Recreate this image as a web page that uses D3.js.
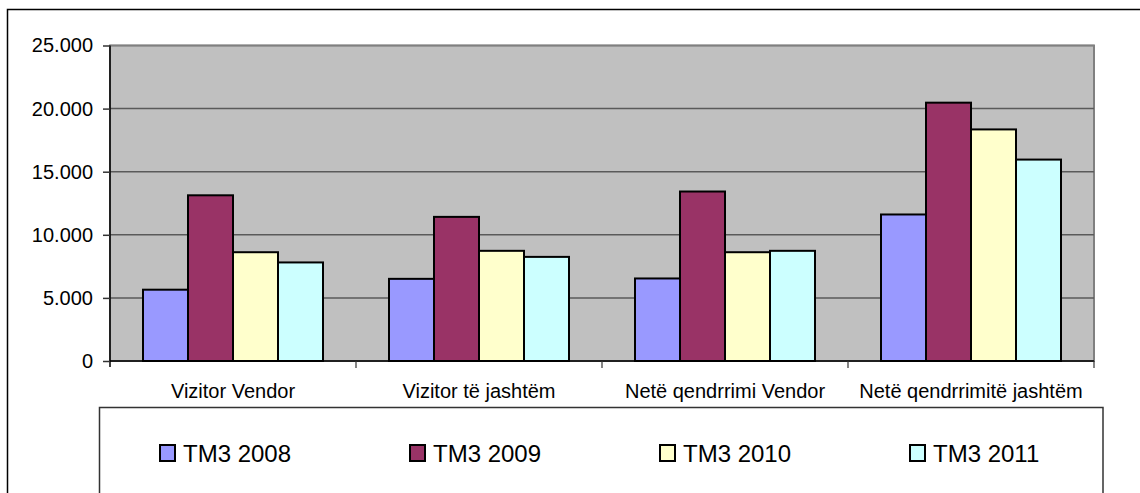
<!DOCTYPE html>
<html>
<head>
<meta charset="utf-8">
<script src="https://cdn.jsdelivr.net/npm/d3@7"></script>
<style>
  body { margin: 0; background: #fff; }
  svg { display: block; font-family: "Liberation Sans", Arial, sans-serif; }
</style>
</head>
<body>
<svg id="chart" width="1140" height="493"></svg>
<script>
// Categories and series.
const categories = ['Vizitor Vendor', 'Vizitor të jashtëm', 'Netë qendrrimi Vendor', 'Netë qendrrimitë jashtëm'];
const seriesNames = ['TM3 2008', 'TM3 2009', 'TM3 2010', 'TM3 2011'];
const tm3_2008 = [5650, 6510, 6540, 11610];
const tm3_2009 = [13130, 11420, 13430, 20470];
const tm3_2010 = [8620, 8730, 8620, 18350];
const tm3_2011 = [7810, 8250, 8730, 15960];
const yTicks = [0, 5000, 10000, 15000, 20000, 25000];
const colors = ['#9999ff', '#993366', '#ffffcc', '#ccffff'];

const seriesValues = [tm3_2008, tm3_2009, tm3_2010, tm3_2011];

const svg = d3.select('#chart');

// Plot area.
const plot = { left: 110, right: 1094, top: 45.5, bottom: 361 };

// Number format with dot as thousands separator.
const fmt = d3.formatLocale({ decimal: ',', thousands: '.', grouping: [3], currency: ['', ''] }).format(',d');

// Scales.
const x0 = d3.scaleBand()
  .domain(categories)
  .range([plot.left, plot.right]);

const x1 = d3.scaleBand()
  .domain(seriesNames)
  .range([33, x0.bandwidth() - 33]);

const y = d3.scaleLinear()
  .domain([0, 25000])
  .range([plot.bottom, plot.top]);

// Outer frame.
svg.append('path')
  .attr('d', `M7.5,493 V9.5 H1140`)
  .attr('fill', 'none')
  .attr('stroke', '#000')
  .attr('stroke-width', 1.5);

// Plot background.
svg.append('rect')
  .attr('x', plot.left)
  .attr('y', plot.top)
  .attr('width', plot.right - plot.left)
  .attr('height', plot.bottom - plot.top)
  .attr('fill', '#c0c0c0')
  .attr('stroke', '#808080')
  .attr('stroke-width', 2);

// Gridlines.
svg.append('g')
  .selectAll('line')
  .data(yTicks.filter(d => d > 0))
  .join('line')
  .attr('x1', plot.left)
  .attr('x2', plot.right)
  .attr('y1', d => y(d))
  .attr('y2', d => y(d))
  .attr('stroke', d => d === 25000 ? '#808080' : '#5a5a5a')
  .attr('stroke-width', 1.5);

// Bars.
const groups = svg.append('g')
  .selectAll('g')
  .data(categories)
  .join('g')
  .attr('transform', d => `translate(${x0(d)},0)`);

groups.selectAll('rect')
  .data((c, ci) => seriesNames.map((s, si) => ({ s, si, v: seriesValues[si][ci] })))
  .join('rect')
  .attr('x', d => x1(d.s))
  .attr('width', x1.bandwidth())
  .attr('y', d => y(d.v))
  .attr('height', d => y(0) - y(d.v))
  .attr('fill', d => colors[d.si])
  .attr('stroke', '#000')
  .attr('stroke-width', 2);

// Y-Axis.
const yAxis = svg.append('g')
  .attr('transform', `translate(${plot.left},0)`)
  .call(d3.axisLeft(y).tickValues(yTicks).tickFormat(fmt).tickSize(7).tickPadding(10));
yAxis.select('.domain').attr('stroke', '#000').attr('stroke-width', 1.5).attr('d', `M0,${plot.top}V${plot.bottom + 6}`);
yAxis.selectAll('.tick line').attr('stroke', '#333').attr('stroke-width', 1.5);
yAxis.selectAll('.tick text')
  .attr('font-size', 20)
  .attr('fill', '#000')
  .attr('font-family', '"Liberation Sans", Arial, sans-serif');

// X-Axis.
svg.append('line')
  .attr('x1', plot.left)
  .attr('x2', plot.right)
  .attr('y1', plot.bottom)
  .attr('y2', plot.bottom)
  .attr('stroke', '#000')
  .attr('stroke-width', 1.5);

svg.append('g')
  .selectAll('line')
  .data(categories.slice(1).concat(['__end']))
  .join('line')
  .attr('x1', d => d === '__end' ? plot.right : x0(d))
  .attr('x2', d => d === '__end' ? plot.right : x0(d))
  .attr('y1', plot.bottom)
  .attr('y2', plot.bottom + 7)
  .attr('stroke', '#333')
  .attr('stroke-width', 1.2);

svg.append('g')
  .selectAll('text')
  .data(categories)
  .join('text')
  .attr('x', d => x0(d) + x0.bandwidth() / 2)
  .attr('y', 398)
  .attr('text-anchor', 'middle')
  .attr('font-size', 20)
  .text(d => d);

// Legend.
svg.append('path')
  .attr('d', `M99.5,493 V407.5 H1103 V493`)
  .attr('fill', '#fff')
  .attr('stroke', '#333')
  .attr('stroke-width', 1.5);

const legend = svg.append('g')
  .selectAll('g')
  .data(seriesNames)
  .join('g')
  .attr('transform', (d, i) => `translate(${160 + i * 250},445)`);

legend.append('rect')
  .attr('width', 15)
  .attr('height', 16)
  .attr('fill', (d, i) => colors[i])
  .attr('stroke', '#000')
  .attr('stroke-width', 2);

legend.append('text')
  .attr('x', 23)
  .attr('y', 16.5)
  .attr('font-size', 24)
  .text(d => d);
</script>
</body>
</html>
